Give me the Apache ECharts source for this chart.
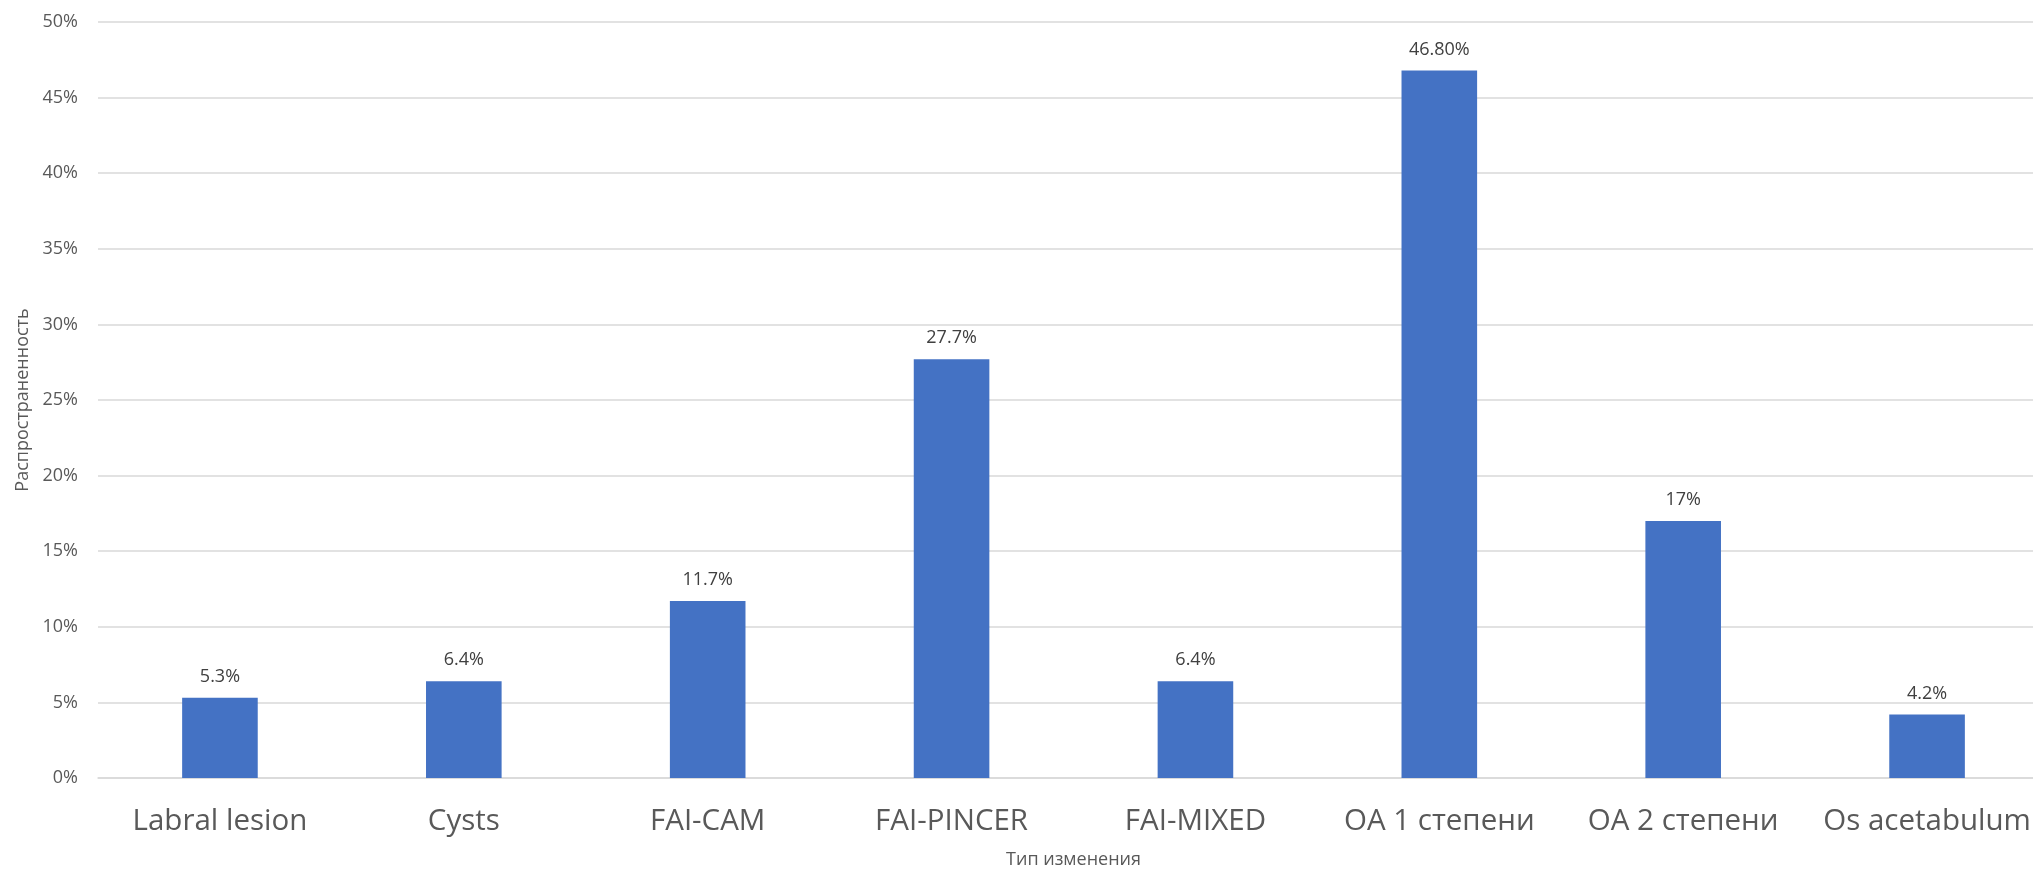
<!DOCTYPE html>
<html><head><meta charset="utf-8">
<script src="https://cdn.jsdelivr.net/npm/echarts@6/dist/echarts.min.js"></script>
<style>html,body{margin:0;padding:0;background:#fff}#c{width:2033px;height:870px}</style>
</head><body><div id="c"></div>
<script>
const categories = ['Labral lesion','Cysts','FAI-CAM','FAI-PINCER','FAI-MIXED','OA 1 степени','OA 2 степени','Os acetabulum'];
const values = [5.3, 6.4, 11.7, 27.7, 6.4, 46.8, 17, 4.2];
const valueLabels = ['5.3%','6.4%','11.7%','27.7%','6.4%','46.80%','17%','4.2%'];
const yTicks = [0,5,10,15,20,25,30,35,40,45,50];

const font = '"Open Sans", "DejaVu Sans", sans-serif';
const chart = echarts.init(document.getElementById('c'), null, {renderer:'canvas'});
chart.setOption({
  animation:false,
  textStyle:{fontFamily:font},
  grid:{left:98, width:1951, top:22, bottom:92, containLabel:false, outerBoundsMode:'none'},
  xAxis:{
    type:'category', data:categories,
    name:'Тип изменения', nameLocation:'middle', nameGap:73,
    nameTextStyle:{fontSize:18, color:'#595959', fontFamily:font},
    axisLine:{show:true, lineStyle:{color:'#D9D9D9', width:1.5}},
    axisTick:{show:false},
    axisLabel:{fontSize:29.5, color:'#595959', margin:29, fontFamily:font, interval:0}
  },
  yAxis:{
    type:'value', min:yTicks[0], max:yTicks[yTicks.length-1], interval:5,
    name:'Распространенность', nameLocation:'middle', nameRotate:90, nameGap:64,
    nameTextStyle:{fontSize:18, color:'#595959', fontFamily:font},
    axisLine:{show:false}, axisTick:{show:false},
    axisLabel:{fontSize:18, color:'#595959', margin:20, fontFamily:font, formatter:'{value}%'},
    splitLine:{lineStyle:{color:'#D9D9D9', width:1.5}}
  },
  series:[{
    type:'bar', barWidth:'31%',
    data:values,
    itemStyle:{color:'#4472C4'},
    label:{show:true, position:'top', distance:12, fontSize:18, color:'#404040', fontFamily:font,
      formatter:p=>valueLabels[p.dataIndex]}
  }]
});
</script></body></html>
